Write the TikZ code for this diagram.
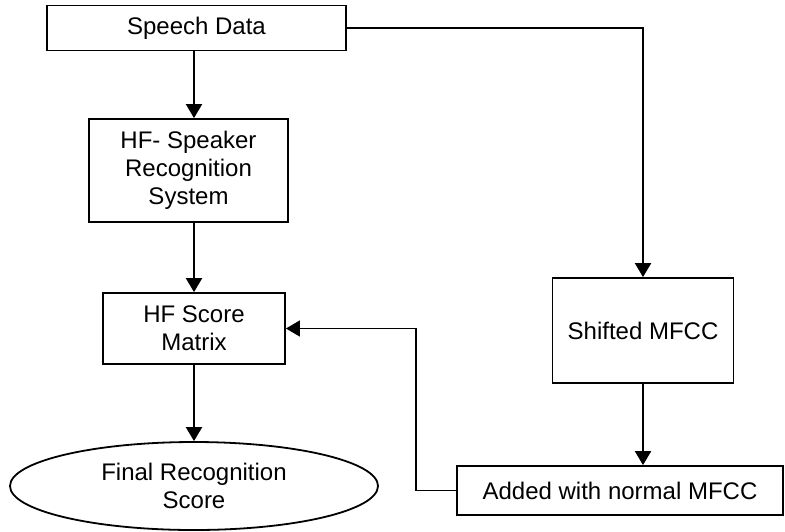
\documentclass[tikz,border=0pt]{standalone}
\usepackage{fontspec}
\setmainfont{Liberation Sans}
\usepackage{tikz}
\usetikzlibrary{shapes.geometric,arrows.meta}
\tikzstyle{box}=[fill=white, draw=black, shape=rectangle, line width=0.9pt, align=center, inner sep=0pt, font=\fontsize{12}{14}\selectfont]
\tikzstyle{oval}=[fill=white, draw=black, shape=ellipse, line width=0.9pt, align=center, inner sep=0pt, font=\fontsize{12}{14}\selectfont]
\tikzstyle{flow}=[line width=1pt, -{Triangle[width=8pt,length=7pt]}]
\tikzstyle{back}=[line width=0.7pt, -{Triangle[width=8pt,length=7pt]}]
\pgfdeclarelayer{nodelayer}
\pgfdeclarelayer{edgelayer}
\pgfsetlayers{nodelayer,edgelayer}

\begin{document}
\begin{tikzpicture}[x=1pt, y=1pt]
	\useasboundingbox (0, 0) rectangle (392.5, -265.5);
	\begin{pgfonlayer}{nodelayer}
		\node [style=box, minimum width=149.5pt, minimum height=22.5pt] (0) at (98.25, -14) {Speech Data};
		\node [style=box, minimum width=99.5pt, minimum height=51.5pt] (1) at (94.25, -85.25) {HF- Speaker\\Recognition\\System};
		\node [style=box, minimum width=91pt, minimum height=35.5pt] (2) at (97, -164.25) {HF Score\\Matrix};
		\node [style=oval, minimum width=184pt, minimum height=44pt] (3) at (97, -243) {Final Recognition\\Score};
		\node [style=box, minimum width=90.5pt, minimum height=52.5pt] (4) at (321.5, -165.25) {Shifted MFCC};
		\node [style=box, minimum width=163pt, minimum height=24.5pt] (5) at (310, -245.25) {Added with normal MFCC};
	\end{pgfonlayer}
	\begin{pgfonlayer}{edgelayer}
		\draw [style=flow] (2.north |- 0.south) to (2.north |- 1.north);
		\draw [style=flow] (1.south -| 2.north) to (2.north);
		\draw [style=flow] (2.south) to (2.south |- 3.north);
		\draw [style=flow] (0.east) -| (4.north);
		\draw [style=flow] (4.south) to (4.south |- 5.north);
		\draw [style=back] (5.west) -- ++(-20, 0) |- (2.east);
	\end{pgfonlayer}
\end{tikzpicture}
\end{document}
